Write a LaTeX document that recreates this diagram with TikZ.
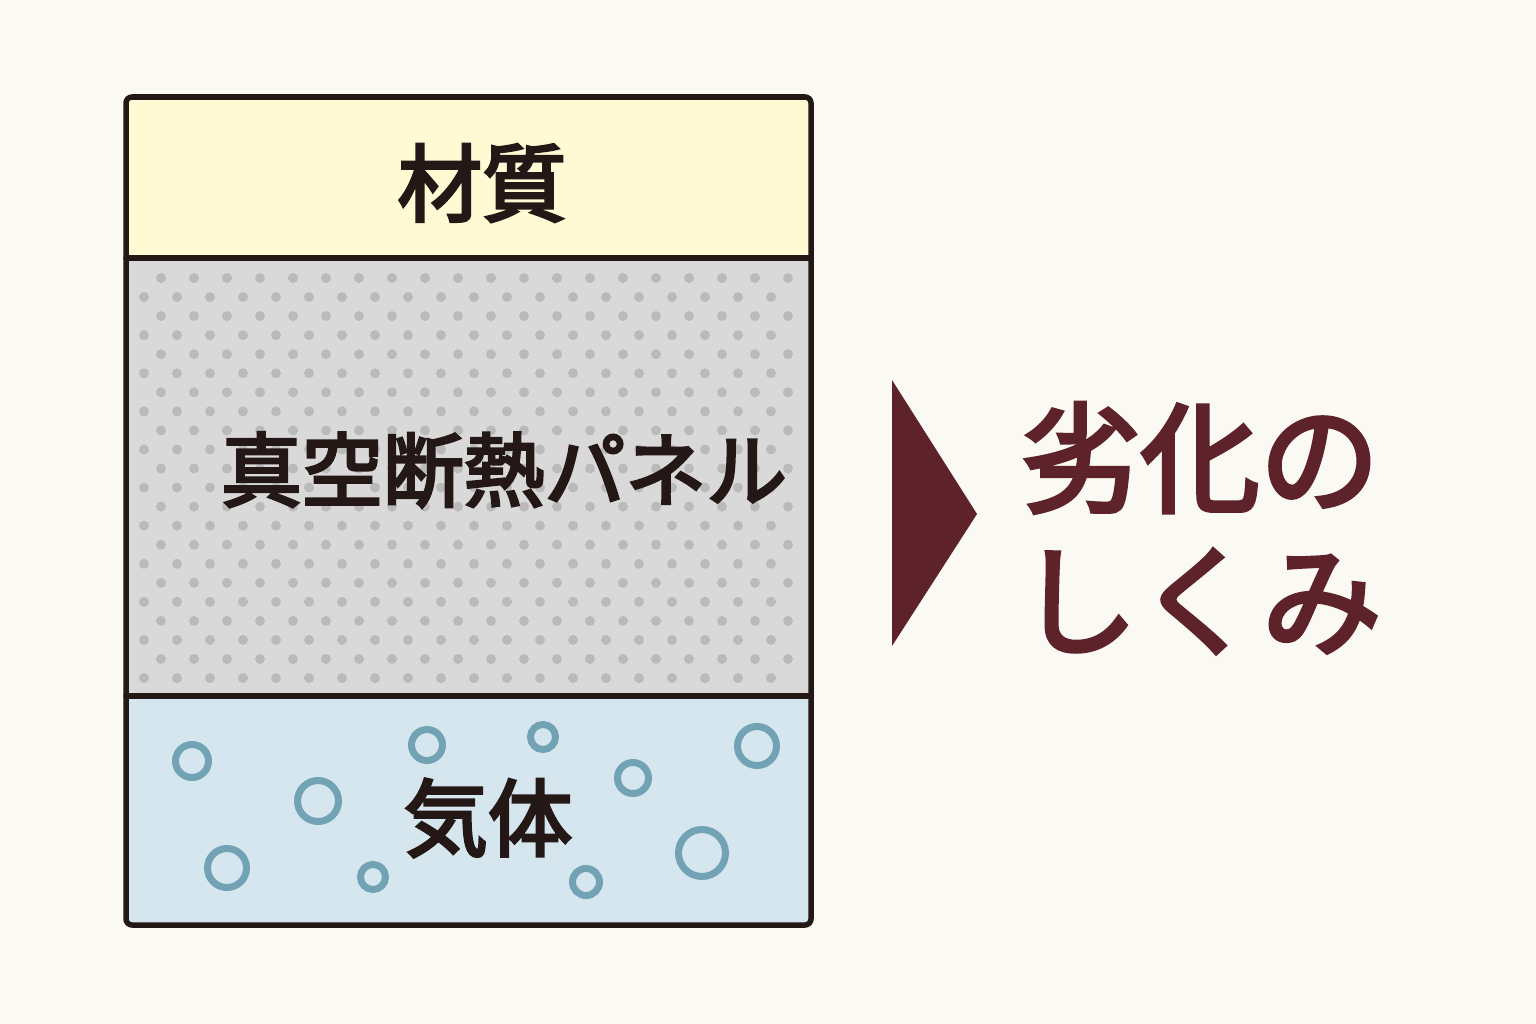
\documentclass[tikz,border=0pt]{standalone}
\usepackage{fontspec}
\usepackage{xcolor}
\usepackage{tikz}
\usetikzlibrary{calc}
\newfontfamily\jp[FakeBold=3.5]{Noto Sans CJK JP}
\definecolor{paper}{HTML}{FAF9F4}
\definecolor{ink}{HTML}{231815}
\definecolor{wine}{HTML}{5E222B}
\definecolor{cream}{HTML}{FFFAD4}
\definecolor{vac}{HTML}{D9D9D9}
\definecolor{grain}{HTML}{BABABA}
\definecolor{gas}{HTML}{D6E6EE}
\definecolor{bubble}{HTML}{72A3B5}
\tikzset{
  frame/.style={draw=ink, line width=0.055cm, line cap=round, line join=round},
  grainpt/.style={fill=grain},
  bub/.style={draw=bubble, line width=0.07cm},
  lab/.style={text=ink, font=\jp\fontsize{24}{28}\selectfont, inner sep=0pt},
  title/.style={text=wine, font=\jp\fontsize{34}{40.5}\selectfont, align=center, inner sep=0pt},
}
\begin{document}
\begin{tikzpicture}[x=0.01cm, y=-0.01cm]
  \fill[paper] (0,0) rectangle (1536,1024);
  \useasboundingbox (0,0) rectangle (1536,1024);
  % layers of the panel
  \coordinate (TL) at (126,97);
  \coordinate (BR) at (811,925);
  \fill[cream, rounded corners=0.06cm] (TL) rectangle (811,258);
  \fill[vac] (126,258) rectangle (811,696);
  \fill[gas, rounded corners=0.06cm] (126,696) rectangle (BR);
  % dotted core
  \foreach \r in {0,...,21} {
    \pgfmathsetmacro{\yy}{278+19.05*\r}
    \pgfmathsetmacro{\xo}{mod(\r,2)==0 ? 161 : 144}
    \foreach \c in {0,...,19}
      \fill[grainpt] ({\xo+33*\c},\yy) circle (0.05cm);
  }
  % gas bubbles
  \foreach \X/\Y/\R in {192/761/20,318/801/24,227/868/23,373/877/16,427/745/19,
                        543/737/16,633/778/19,757/746/23,702/853/27,586/882/17}
    \draw[bub] (\X,\Y) circle ({(\R-3.5)*0.01cm});
  % outline and dividers
  \draw[frame, rounded corners=0.06cm] (TL) rectangle (BR);
  \draw[frame] (126,258) -- (811,258);
  \draw[frame] (126,696) -- (811,696);
  \node[lab] (material) at (482,183) {材質};
  \node[lab, font=\jp\fontsize{23}{28}\selectfont] (core) at (504,470) {真空断熱パネル};
  \node[lab] (gasname) at (488,818) {気体};
  % pointer and title
  \coordinate (p1) at (892,380);
  \coordinate (p2) at (892,646);
  \coordinate (tip) at (977,514);
  \fill[wine] (p1) -- (tip) -- (p2) -- cycle;
  \node[title] (heading) at (1200,528) {劣化の\\しくみ};
\end{tikzpicture}
\end{document}
